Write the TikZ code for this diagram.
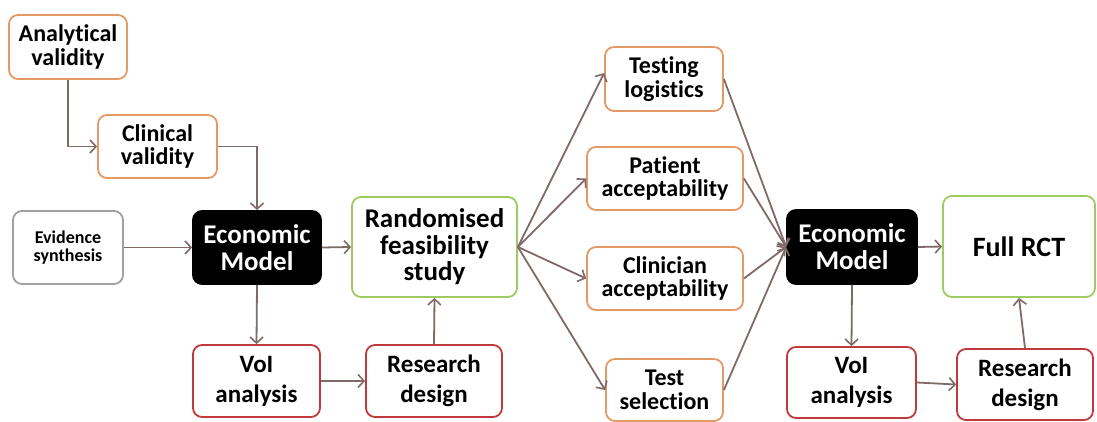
\documentclass[tikz,border=0pt]{standalone}
\usepackage{fontspec}
\setmainfont[Ligatures=NoCommon]{Carlito}
\usetikzlibrary{arrows.meta}
\definecolor{arr}{HTML}{7F6A68}
\definecolor{orng}{HTML}{E39A66}
\definecolor{grn}{HTML}{9BCB61}
\definecolor{redb}{HTML}{C0393D}
\definecolor{gryb}{HTML}{A0A0A0}
\tikzset{
  box/.style={draw, line width=1.8pt, rounded corners=9pt, fill=white, align=center, inner sep=0pt, font=\bfseries\fontsize{24}{23.5}\selectfont},
  obox/.style={box, draw=orng},
  gbox/.style={box, draw=grn},
  rbox/.style={box, draw=redb, font=\bfseries\fontsize{25}{30}\selectfont},
  ybox/.style={box, draw=gryb},
  kbox/.style={box, draw=black, fill=black, text=white, font=\bfseries\fontsize{27}{27}\selectfont},
  conn/.style={draw=arr, line width=1.8pt, -{Straight Barb[length=6pt,width=13pt,line width=1.6pt]}},
}
\begin{document}
\begin{tikzpicture}[x=1pt,y=-1pt]
\useasboundingbox (0,0) rectangle (1097,422);
% nodes
\node[obox, minimum width=118pt, minimum height=64pt] (av) at (68,47) {Analytical\\validity};
\node[obox, minimum width=119pt, minimum height=63pt] (cv) at (157.5,146.5) {Clinical\\validity};
\node[ybox, minimum width=110pt, minimum height=73pt, font=\bfseries\fontsize{18}{17.5}\selectfont] (es) at (68,247.5) {Evidence\\synthesis};
\node[kbox, minimum width=128pt, minimum height=73pt] (em1) at (257,247.5) {Economic\\Model};
\node[gbox, minimum width=165pt, minimum height=100pt, font=\bfseries\fontsize{27}{26.5}\selectfont] (rfs) at (434.5,247) {Randomised\\feasibility\\study};
\node[rbox, minimum width=127pt, minimum height=72pt] (voi1) at (256.5,381) {VoI\\analysis};
\node[rbox, minimum width=136pt, minimum height=72pt] (rd1) at (434,381) {Research\\design};
\node[obox, minimum width=118pt, minimum height=64pt] (tl) at (664,79) {Testing\\logistics};
\node[obox, minimum width=156pt, minimum height=63pt] (pa) at (665,178.5) {Patient\\acceptability};
\node[obox, minimum width=156pt, minimum height=63pt] (ca) at (665,278.5) {Clinician\\acceptability};
\node[obox, minimum width=117pt, minimum height=62pt] (ts) at (664.5,390) {Test\\selection};
\node[kbox, minimum width=130pt, minimum height=74pt] (em2) at (852,247) {Economic\\Model};
\node[gbox, minimum width=152pt, minimum height=101pt, font=\bfseries\fontsize{28}{30}\selectfont] (rct) at (1019,246.5) {Full RCT};
\node[rbox, minimum width=129pt, minimum height=71pt] (voi2) at (851.5,382.5) {VoI\\analysis};
\node[rbox, minimum width=136pt, minimum height=71pt] (rd2) at (1025,384.5) {Research\\design};
% connectors
\draw[conn] (av.south) |- (cv.west);
\draw[conn] (cv.east) -| (em1.north);
\draw[conn] (es.east) -- (em1.west);
\draw[conn] (em1.east) -- (rfs.west);
\draw[conn] (em1.south) -- (voi1.north);
\draw[conn] (voi1.east) -- (rd1.west);
\draw[conn] (rd1.north) -- (rfs.south);
\draw[conn] (rfs.east) -- ([yshift=6pt]tl.west);
\draw[conn] (rfs.east) -- (pa.west);
\draw[conn] (rfs.east) -- (ca.west);
\draw[conn] (rfs.east) -- (ts.west);
\draw[conn] (tl.east) -- (em2.west);
\draw[conn] (pa.east) -- (em2.west);
\draw[conn] (ca.east) -- (em2.west);
\draw[conn] (ts.east) -- (em2.west);
\draw[conn] (em2.east) -- (rct.west);
\draw[conn] (em2.south) -- (voi2.north);
\draw[conn] (voi2.east) -- (rd2.west);
\draw[conn] (rd2.north) -- (rct.south);
\end{tikzpicture}
\end{document}
